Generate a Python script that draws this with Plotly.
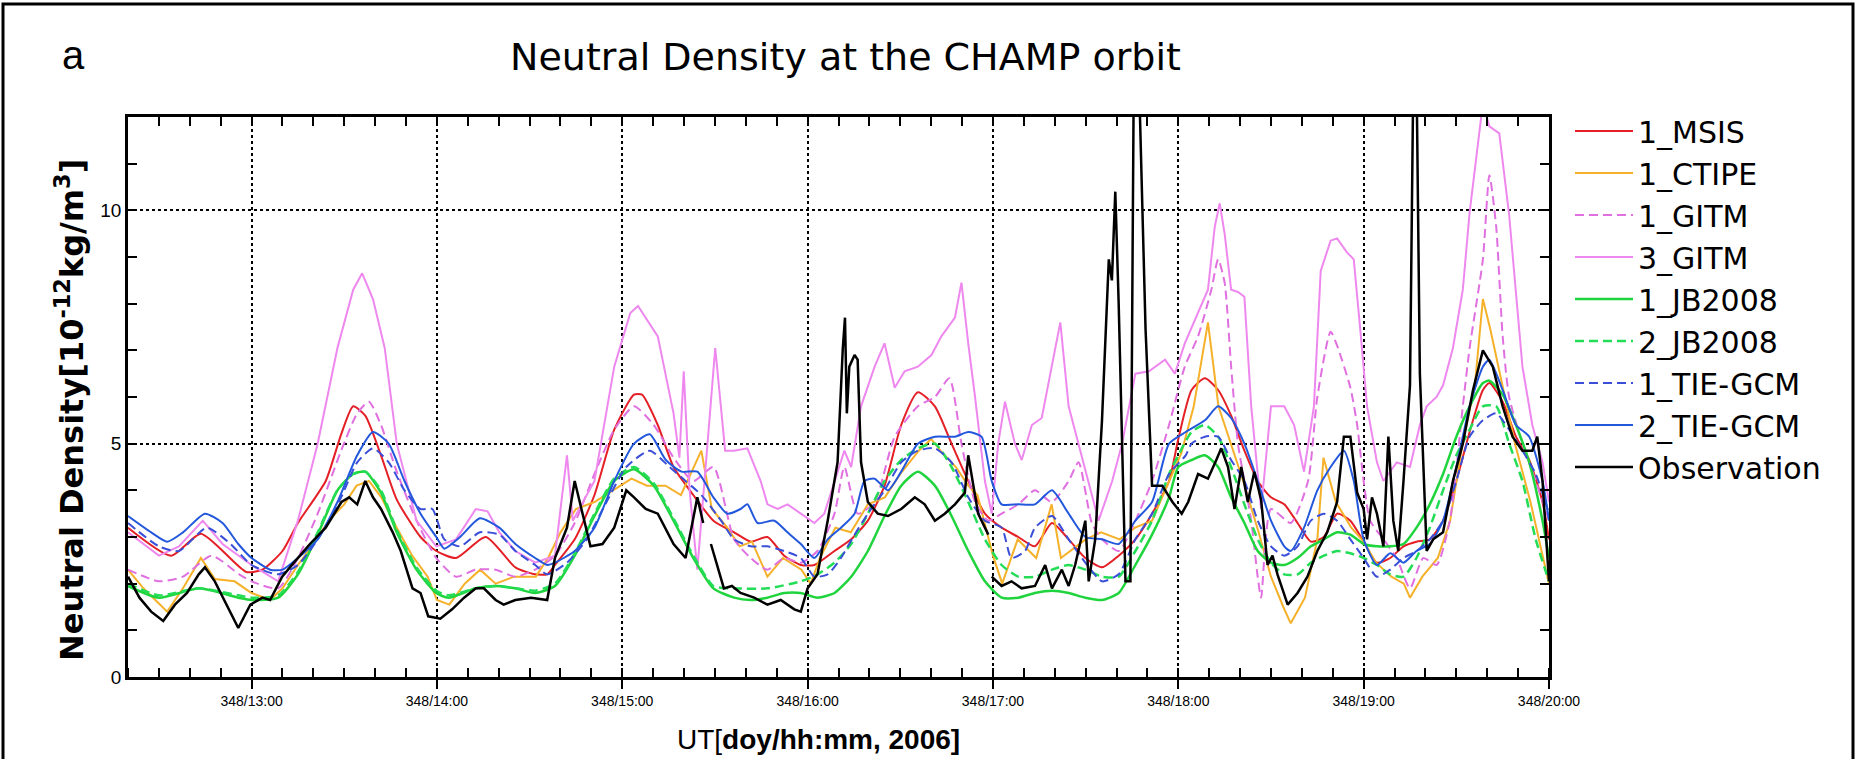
import plotly.graph_objects as go

# ---------------- data (time = minutes after 348/12:00 UT, density in 1e-12 kg/m^3) ----------------
MSIS_T = [20, 34, 43.6, 58.3, 63.5, 70, 75, 84, 89, 92.9,
          96.8, 101.9, 107, 114.7, 119.8, 126.2, 135.8, 145.4, 151.8, 155.7,
          158.2, 164.6, 171, 177.4, 183.8, 186.4, 191.5, 196.6, 203, 209.5,
          216.2, 221.6, 227, 232.4, 237.8, 242.2, 248.7, 254.1, 259.5, 264.9,
          270.3, 275.7, 281.2, 286.6, 292, 297.4, 302.8, 308.2, 313.6, 319.1,
          324.5, 329.9, 335.3, 340.7, 346.1, 351.5, 357, 360, 364.3, 368.6,
          372.9, 377.1, 381.4, 385.7, 390, 394.3, 398.6, 402.9, 407.1, 411.4,
          415.7, 420, 424.3, 428.6, 432.9, 437.1, 441.4, 445.7, 450, 454.3,
          458.6, 460.7, 465, 469.3, 473.6, 477.9, 480]
MSIS_V = [3.2, 2.6, 3.07, 2.25, 2.3, 2.7, 3.3, 4.2, 5.2, 5.8,
          5.6, 4.75, 3.8, 3.0, 2.7, 2.55, 3.0, 2.35, 2.2, 2.2,
          2.4, 2.95, 3.9, 5.3, 6.05, 6.05, 5.4, 4.5, 3.9, 3.35,
          3.1, 2.9, 3.0, 2.6, 2.4, 2.4, 2.7, 2.95, 3.35, 4.1,
          5.4, 6.1, 5.8, 5.0, 4.2, 3.5, 3.2, 3.0, 2.8, 3.3,
          2.95, 2.55, 2.35, 2.6, 2.95, 3.5, 4.2, 5.1, 6.15, 6.4,
          6.15, 5.6, 4.85, 4.2, 3.85, 3.7, 3.3, 2.9, 3.0, 3.5,
          3.35, 2.9, 2.45, 2.55, 2.8, 2.9, 2.95, 3.35, 4.2, 5.25,
          6.15, 6.3, 5.9, 5.15, 4.65, 3.75, 2.95]

CTIPE_T = [20, 25, 32.7, 37.8, 43.6, 48.1, 54.5, 60, 66, 70,
           75, 80, 85, 90, 94, 98, 102, 107, 112, 117,
           120, 124, 129, 134, 139, 145, 152, 156, 160, 165,
           171, 177, 183, 188, 194, 199, 205.6, 209, 214, 218,
           222, 227, 232, 238, 241, 244, 249, 254, 259.5, 265,
           270, 276, 280, 283, 288, 292, 295, 300, 303, 308,
           314, 319, 322, 330, 335, 341, 346, 351.5, 357, 361,
           365, 369.6, 373, 377, 381, 386, 390, 394, 396.4, 401,
           405, 407, 411, 416, 420, 424, 429, 433, 435, 439,
           444, 448, 452, 456, 458.6, 461, 465, 469, 474, 478,
           480]
CTIPE_V = [2.3, 1.9, 1.4, 1.9, 2.55, 2.1, 2.05, 1.8, 1.65, 1.9,
           2.4, 2.85, 3.35, 3.7, 4.1, 4.2, 3.85, 3.2, 2.6, 2.15,
           1.65, 1.55, 2.0, 2.3, 2.0, 2.15, 2.15, 2.55, 3.1, 3.6,
           3.75, 4.0, 4.25, 4.1, 4.1, 3.9, 4.85, 3.6, 3.2, 2.8,
           2.9, 2.15, 2.55, 2.3, 2.0, 2.55, 3.2, 3.1, 3.7, 3.85,
           4.35, 4.85, 5.1, 4.85, 4.5, 4.1, 3.9, 2.6, 2.0, 2.95,
           2.55, 3.7, 2.55, 2.95, 3.1, 2.95, 3.2, 3.35, 4.2, 4.8,
           5.8, 7.6, 5.8, 5.0, 4.2, 3.1, 2.15, 1.5, 1.15, 1.7,
           2.95, 4.7, 3.75, 3.2, 2.9, 2.45, 2.15, 2.0, 1.7, 2.15,
           2.55, 3.35, 5.0, 6.25, 8.1, 7.45, 6.25, 5.0, 3.75, 2.55,
           2.0]

GITM1_T = [20, 30, 37.8, 47, 56, 60, 68.6, 75, 81.4, 89,
           94.2, 98, 101.9, 107, 113.4, 119.8, 126.2, 132.6, 139, 145.4,
           151.8, 158.2, 164.6, 171, 177.4, 183.8, 190.2, 196.6, 203, 209.5,
           216.2, 221.6, 227, 232.4, 237.8, 243.2, 248.7, 251.9, 256.2, 261.7,
           268.2, 275.7, 281.2, 285.9, 289.8, 294.2, 298.5, 302.8, 308.2, 313.6,
           319.1, 324.5, 327.7, 332, 335.3, 340.7, 346.1, 351.5, 357, 362.1,
           366.4, 370.7, 372.9, 375, 377.1, 379.3, 381.4, 383.6, 385.7, 386.8,
           390, 396.4, 402, 405, 409.3, 411.4, 415.7, 417.9, 420, 422.1,
           426.4, 430.7, 435, 439.3, 443.6, 447.9, 452.1, 454.3, 458.6, 460.7,
           462.9, 465, 467.1, 471.4, 475.7, 480]
GITM1_V = [2.3, 2.05, 2.15, 2.6, 2.2, 2.05, 1.9, 2.55, 3.5, 4.85,
           5.65, 5.9, 5.4, 4.4, 3.35, 2.55, 2.15, 2.3, 2.3, 2.15,
           2.3, 2.6, 3.3, 4.35, 5.3, 5.8, 5.4, 4.7, 4.2, 4.5,
           2.95, 2.55, 2.3, 2.55, 2.45, 2.7, 3.5, 4.5, 3.5, 3.75,
           5.15, 5.8, 6.0, 6.4, 5.0, 3.75, 3.35, 3.5, 3.7, 4.0,
           3.75, 4.2, 4.6, 3.3, 2.95, 2.7, 3.35, 4.2, 5.4, 6.65,
           7.3, 8.3, 8.95, 8.45, 6.65, 5.0, 4.2, 3.35, 2.15, 1.7,
           3.6, 3.3, 4.2, 6.0, 7.4, 7.1, 6.2, 5.4, 4.2, 3.35,
           2.95, 2.55, 1.9, 2.55, 2.4, 3.35, 5.8, 7.05, 8.95, 10.75,
           9.65, 7.3, 6.0, 5.0, 4.2, 3.35]

GITM3_T = [20, 30, 36.5, 44.2, 50.6, 60, 68.6, 75, 81.4, 87.8,
           92.9, 95.8, 99.3, 103.1, 107, 113.4, 119.8, 126.2, 132.6, 136.4,
           140.2, 145.4, 151.8, 158.2, 162.1, 164, 171, 177.4, 182.6, 185.1,
           191.5, 196.6, 198.5, 199.9, 201.8, 204.3, 210.1, 213.3, 216.2, 220.5,
           224.8, 227, 230.3, 233.5, 237.8, 242.2, 245.4, 248.7, 251.9, 254.1,
           257.3, 261.7, 264.9, 268.2, 271.4, 275.7, 280.1, 283.3, 287.7, 289.8,
           292, 294.2, 297.4, 299.6, 301.7, 303.9, 307.1, 309.3, 312.6, 315.8,
           319.1, 321.8, 324.5, 327.7, 331, 334.2, 338.6, 341.8, 346.1, 350.5,
           355.7, 358.9, 362.1, 366.4, 369.6, 371.8, 373.4, 375, 377.1, 379.3,
           381.4, 383.6, 386.8, 390, 394.3, 397.5, 400.7, 403.9, 406.1, 409.3,
           411.4, 414.6, 416.8, 418.9, 421.1, 424.3, 426.4, 430.7, 435, 438.2,
           440.4, 443.6, 445.7, 448.9, 452.1, 454.3, 457.5, 458.6, 460.7, 463.9,
           467.1, 469.3, 471.4, 474.6, 477.9, 480]
GITM3_V = [3.1, 2.6, 2.8, 3.35, 2.85, 2.4, 2.05, 3.35, 5.0, 7.05,
           8.3, 8.65, 8.1, 7.05, 5.0, 3.35, 2.8, 2.95, 3.6, 3.55,
           3.1, 2.7, 2.45, 2.6, 4.75, 3.35, 4.2, 6.65, 7.8, 7.95,
           7.3, 5.65, 4.7, 6.55, 4.0, 2.3, 7.05, 4.85, 4.85, 4.9,
           4.2, 3.7, 3.6, 3.7, 3.5, 3.3, 3.5, 4.2, 4.85, 4.5,
           5.8, 6.65, 7.15, 6.2, 6.55, 6.65, 6.9, 7.3, 7.7, 8.45,
           7.15, 6.0, 4.2, 3.5, 5.0, 5.9, 5.0, 4.65, 5.4, 5.55,
           6.65, 7.6, 5.8, 5.0, 4.2, 3.35, 4.2, 5.0, 6.5, 6.55,
           6.8, 6.5, 7.15, 7.8, 8.3, 9.65, 10.15, 9.5, 8.3, 8.25,
           8.15, 5.8, 3.6, 5.8, 5.8, 5.4, 4.4, 5.8, 8.7, 9.35,
           9.4, 9.1, 8.95, 7.45, 5.8, 4.6, 4.2, 4.6, 4.5, 5.4,
           5.8, 6.0, 6.25, 7.05, 8.3, 9.95, 11.7, 12.3, 11.8, 11.65,
           9.9, 8.3, 6.65, 5.4, 4.6, 3.75]

JB1_T = [20, 30, 43, 55.7, 60, 68.6, 75, 81.4, 87.8, 92.9,
         96.8, 101.9, 107, 113.4, 119.8, 123.7, 132.6, 139, 145.4, 151.8,
         158.2, 164.6, 171, 177.4, 183.8, 190.2, 196.6, 203, 209.5, 216.2,
         221.6, 227, 232.4, 237.8, 243.2, 248.7, 254.1, 259.5, 264.9, 270.3,
         275.7, 281.2, 286.6, 292, 297.4, 302.8, 308.2, 313.6, 319.1, 324.5,
         329.9, 335.3, 340.7, 346.1, 351.5, 357, 360, 364.3, 368.6, 372.9,
         377.1, 381.4, 385.7, 390, 394.3, 398.6, 402.9, 407.1, 411.4, 415.7,
         420, 424.3, 428.6, 432.9, 437.1, 441.4, 445.7, 450, 454.3, 458.6,
         460.7, 465, 469.3, 473.6, 477.9, 480]
JB1_V = [1.95, 1.7, 1.9, 1.7, 1.65, 1.7, 2.2, 3.05, 4.0, 4.35,
         4.4, 3.95, 3.1, 2.3, 1.8, 1.7, 1.9, 1.95, 1.9, 1.8,
         1.95, 2.6, 3.45, 4.2, 4.45, 4.1, 3.35, 2.55, 1.9, 1.7,
         1.65, 1.7, 1.8, 1.8, 1.7, 1.8, 2.15, 2.7, 3.45, 4.1,
         4.4, 4.1, 3.45, 2.7, 2.05, 1.7, 1.7, 1.8, 1.85, 1.8,
         1.7, 1.65, 1.8, 2.4, 3.05, 3.85, 4.5, 4.65, 4.75, 4.5,
         3.85, 3.3, 2.7, 2.45, 2.4, 2.55, 2.8, 2.95, 3.1, 3.05,
         2.85, 2.8, 2.8, 2.85, 3.2, 3.7, 4.35, 5.15, 5.8, 6.3,
         6.35, 6.05, 5.4, 4.6, 3.35, 2.55]

JB2_T = [20, 30, 43, 55.7, 60, 68.6, 75, 81.4, 87.8, 92.9,
         96.8, 101.9, 107, 113.4, 119.8, 123.7, 132.6, 139, 145.4, 151.8,
         158.2, 164.6, 171, 177.4, 183.8, 190.2, 196.6, 203, 209.5, 216.2,
         227, 237.8, 243.2, 248.7, 254.1, 259.5, 264.9, 270.3, 275.7, 281.2,
         286.6, 292, 297.4, 302.8, 308.2, 313.6, 319.1, 324.5, 329.9, 335.3,
         340.7, 346.1, 351.5, 357, 360, 364.3, 368.6, 372.9, 377.1, 381.4,
         385.7, 390, 394.3, 398.6, 402.9, 407.1, 411.4, 415.7, 420, 424.3,
         428.6, 432.9, 437.1, 441.4, 445.7, 450, 454.3, 458.6, 462.9, 467.1,
         471.4, 475.7, 480]
JB2_V = [2.0, 1.75, 1.9, 1.75, 1.7, 1.75, 2.25, 3.1, 4.0, 4.35,
         4.4, 4.0, 3.15, 2.35, 1.85, 1.75, 1.9, 1.95, 1.9, 1.85,
         2.0, 2.65, 3.5, 4.25, 4.5, 4.15, 3.4, 2.6, 1.95, 1.9,
         1.9, 2.05, 2.2, 2.45, 2.85, 3.5, 4.2, 4.65, 4.9, 5.0,
         4.5, 3.75, 2.95, 2.4, 2.15, 2.15, 2.3, 2.4, 2.3, 2.15,
         2.15, 2.7, 3.35, 4.35, 4.75, 5.25, 5.4, 5.15, 4.5, 3.7,
         2.95, 2.45, 2.2, 2.2, 2.45, 2.6, 2.7, 2.65, 2.55, 2.4,
         2.2, 2.15, 2.55, 3.2, 4.0, 4.75, 5.3, 5.8, 5.8, 5.0,
         4.2, 2.95, 2.05]

TIE1_T = [20, 30, 36.5, 45.5, 53.2, 60, 68.6, 75, 81.4, 89,
          94.2, 99.3, 104.4, 109.5, 114.7, 118.5, 122.4, 127.5, 133.9, 140.2,
          145.4, 151.8, 155.7, 162.1, 168.5, 174.9, 181.3, 188.9, 195.3, 200.5,
          205.6, 212, 216.2, 221.6, 227, 232.4, 237.8, 242.2, 246.5, 250.8,
          255.2, 259.5, 264.9, 270.3, 275.7, 281.2, 286.6, 292, 297.4, 302.8,
          306, 310.4, 313.6, 319.1, 324.5, 329.9, 335.3, 340.7, 346.1, 351.5,
          357, 362.4, 364.3, 368.6, 372.9, 377.1, 381.4, 385.7, 390, 394.3,
          398.6, 402.9, 407.1, 411.4, 415.7, 420, 424.3, 428.6, 432.9, 437.1,
          441.4, 445.7, 450, 454.3, 458.6, 462.9, 467.1, 471.4, 475.7, 480]
TIE1_V = [3.3, 2.8, 2.7, 3.2, 2.85, 2.4, 2.2, 2.4, 2.95, 3.85,
          4.6, 4.9, 4.6, 4.0, 3.6, 3.6, 2.95, 2.8, 3.1, 3.05,
          2.7, 2.4, 2.2, 2.45, 2.95, 3.75, 4.5, 4.85, 4.5, 4.2,
          3.9, 3.35, 2.95, 2.8, 2.8, 2.7, 2.55, 2.15, 2.2, 2.55,
          3.05, 3.5, 4.0, 4.6, 4.85, 4.9, 4.6, 3.85, 3.35, 3.2,
          2.55, 2.7, 3.2, 3.45, 2.95, 2.45, 2.05, 2.2, 2.95, 3.5,
          4.35, 4.75, 5.0, 5.15, 5.15, 4.65, 4.2, 3.35, 2.8, 2.6,
          2.8, 3.35, 3.5, 3.35, 2.95, 2.55, 2.15, 2.3, 2.55, 2.7,
          2.95, 3.35, 4.2, 5.15, 5.5, 5.65, 5.3, 4.85, 4.35, 3.5]

TIE2_T = [20, 27.5, 32.7, 37.8, 44.9, 50.6, 55.7, 60, 66, 70,
          75, 81.4, 87.8, 94.2, 99.3, 104.4, 109.5, 114.7, 119.8, 122.4,
          127.5, 133.9, 140.2, 145.4, 151.8, 155.7, 158.2, 164.6, 171, 177.4,
          183.8, 188.9, 194.1, 199.2, 204.3, 209.5, 214, 218.3, 220.5, 223.8,
          229.2, 233.5, 237.8, 242.2, 246.5, 250.8, 255.2, 258.4, 261.7, 266,
          270.3, 275.7, 281.2, 287.7, 292, 296.3, 299.6, 302.8, 308.2, 313.6,
          319.1, 324.5, 329.9, 335.3, 340.7, 346.1, 351.5, 357, 362.4, 368.6,
          372.9, 377.1, 381.4, 385.7, 390, 394.3, 396.4, 400.7, 405, 409.3,
          413.6, 416.8, 420, 424.3, 428.6, 432.9, 437.1, 441.4, 445.7, 450,
          454.3, 458.6, 460.7, 465, 469.3, 473.6, 477.9, 480]
TIE2_V = [3.45, 3.1, 2.9, 3.1, 3.5, 3.3, 2.85, 2.55, 2.3, 2.3,
          2.55, 2.95, 3.75, 4.75, 5.25, 5.0, 4.2, 3.5, 3.0, 2.75,
          3.0, 3.4, 3.2, 2.85, 2.55, 2.4, 2.45, 2.7, 3.2, 4.2,
          5.0, 5.2, 4.65, 4.4, 4.4, 3.85, 3.5, 3.6, 3.7, 3.3,
          3.35, 3.1, 2.85, 2.55, 2.95, 3.2, 3.5, 4.2, 4.25, 4.0,
          4.4, 5.0, 5.15, 5.15, 5.25, 5.15, 4.2, 3.7, 3.7, 3.7,
          4.0, 3.5, 3.0, 2.95, 2.85, 3.35, 3.75, 5.0, 5.25, 5.5,
          5.8, 5.55, 5.0, 4.2, 3.35, 2.8, 2.7, 3.2, 4.0, 4.5,
          4.85, 4.2, 2.95, 2.4, 2.65, 2.45, 2.7, 2.85, 3.35, 4.5,
          5.8, 6.65, 6.8, 6.15, 5.4, 5.15, 4.2, 3.35]

# None marks the data gaps of the CHAMP record
OBS_T = [20, 23.7, 27.5, 31.4, 35.2, 39.1, 42.9, 44.9, 48.1, 51.9,
         55.7, 59.6, 63.5, 66, 69.9, 73.7, 78.9, 84, 89.1, 91.6,
         94.2, 96.8, 99.3, 101.9, 105.7, 108.3, 112.1, 114.7, 117.2, 121.1,
         124.9, 128.8, 132.6, 135.2, 139, 141.6, 145.4, 150.5, 155.7, 158.2,
         162.1, 164.6, 167.2, 169.7, 173.6, 177.4, 181.3, 183.8, 187.6, 191.5,
         196.6, 200.5, 204.3, 206.2, None, 208.7, 212.9, 215.5, 218.3, 222.7,
         227, 231.3, 235.7, 237.8, 240, 243.2, 246.5, 249.7, 251.4, 252.1,
         252.7, 253.5, 255.2, 256.2, 257.3, 259.5, 262.7, 266, 270.3, 274.7,
         277.9, 281.2, 284.4, 287.7, 290.9, 292, 293.6, 295.2, 297.4, 298.5,
         None, 299.6, 302.8, 306, 309.3, 313.6, 316.9, 319.1, 322.3, 324.5,
         326.6, 329.9, 331, 333.1, 335.3, 337.5, 338.5, 339.6, 340.7, 342.9,
         344.5, 345.6, 347.2, 349.4, 351.5, 354.8, 358.1, 361.1, 363.2, 366.4,
         369.6, 372.3, 373.9, 376.1, 378.2, 380.4, 382.5, 384.6, 386.8, 388.9,
         390.5, 392.1, 395.4, 398.6, 401.8, 405, 408.2, 411.4, 413.6, 415.7,
         417.9, 420, 421.1, 422.7, 424.3, 426.4, 428, 429.6, 431.2, 432.9,
         435, 436.1, 437.1, 438.2, 440.4, 442.5, 445.7, 448.9, 452.1, 455.4,
         458.6, 461.8, 465, 468.2, 471.4, 474.6, 476.2, 477.9, 480]
OBS_V = [2.15, 1.7, 1.4, 1.2, 1.55, 1.8, 2.2, 2.35, 2.05, 1.55,
         1.05, 1.55, 1.7, 1.65, 2.15, 2.45, 2.85, 3.2, 3.75, 3.85,
         3.7, 4.2, 3.85, 3.6, 3.1, 2.7, 1.9, 1.8, 1.3, 1.25,
         1.45, 1.7, 1.9, 1.9, 1.65, 1.55, 1.65, 1.7, 1.65, 2.55,
         3.2, 4.2, 3.5, 2.8, 2.85, 3.2, 4.0, 3.85, 3.6, 3.5,
         2.85, 2.55, 3.85, 3.3, None, 2.85, 1.9, 1.95, 1.8, 1.7,
         1.55, 1.65, 1.45, 1.4, 1.9, 2.2, 3.35, 4.6, 7.05, 7.7,
         5.65, 6.65, 6.9, 6.8, 4.6, 3.75, 3.5, 3.45, 3.6, 3.85,
         3.7, 3.35, 3.5, 3.7, 3.95, 4.75, 4.1, 3.5, 3.2, 3.05,
         None, 2.15, 1.95, 2.05, 1.9, 1.95, 2.4, 1.9, 2.3, 1.95,
         2.4, 3.35, 2.05, 2.95, 5.5, 8.95, 8.5, 10.4, 8.0, 2.05,
         2.05, 13.0, 13.0, 7.45, 4.1, 4.1, 3.75, 3.5, 3.75, 4.35,
         4.25, 4.65, 4.9, 4.5, 3.6, 4.5, 3.75, 4.4, 3.8, 2.4,
         2.6, 2.2, 1.55, 1.8, 2.15, 2.7, 3.1, 3.75, 5.15, 5.15,
         3.95, 3.6, 2.95, 3.85, 3.5, 2.8, 5.15, 3.35, 2.7, 4.2,
         6.25, 13.0, 13.0, 6.5, 2.7, 2.95, 3.1, 4.2, 5.0, 6.15,
         7.0, 6.65, 5.8, 5.15, 4.85, 4.85, 5.15, 4.2, 2.05]

HOUR_TICKS = [60, 120, 180, 240, 300, 360, 420, 480]
HOUR_LABELS = ["348/13:00", "348/14:00", "348/15:00", "348/16:00",
               "348/17:00", "348/18:00", "348/19:00", "348/20:00"]
X_RANGE = [20, 480]
Y_RANGE = [0, 12]

# name, times, values, colour, dashed?, width, smooth?
SERIES = [
    ("1_MSIS", MSIS_T, MSIS_V, "#e41f26", False, 2, True),
    ("1_CTIPE", CTIPE_T, CTIPE_V, "#f6b12a", False, 2, False),
    ("1_GITM", GITM1_T, GITM1_V, "#e070e0", True, 2, True),
    ("3_GITM", GITM3_T, GITM3_V, "#ee88ee", False, 2, False),
    ("1_JB2008", JB1_T, JB1_V, "#1fd43c", False, 2.5, True),
    ("2_JB2008", JB2_T, JB2_V, "#22dd55", True, 2.5, True),
    ("1_TIE-GCM", TIE1_T, TIE1_V, "#3a4ed8", True, 2, True),
    ("2_TIE-GCM", TIE2_T, TIE2_V, "#2458dc", False, 2, True),
    ("Observation", OBS_T, OBS_V, "#000000", False, 2.5, False),
]

for name, t, v, *_ in SERIES:
    assert len(t) == len(v), (name, len(t), len(v))

# ---------------- layout geometry (pixels) ----------------
W, H = 1858, 759
L, R, T, B = 128, 1549, 117, 677


def px(xp):
    return (xp - L) / (R - L)


def py(yp):
    return (B - yp) / (B - T)


FONT = "Liberation Sans, Arial, Helvetica, sans-serif"
WIDE = "DejaVu Sans, Liberation Sans, Arial, sans-serif"

fig = go.Figure()
for name, t, v, color, dashed, width, smooth in SERIES:
    fig.add_trace(go.Scatter(
        x=t, y=v, mode="lines", name=name,
        line=dict(color=color, width=width, dash=("9px,5px" if dashed else "solid"),
                  shape=("spline" if smooth else "linear"), smoothing=0.6),
        connectgaps=False,
    ))

# empty traces so that the mirrored top / right frame axes are drawn
fig.add_trace(go.Scatter(x=[], y=[], xaxis="x2", yaxis="y", showlegend=False, hoverinfo="skip"))
fig.add_trace(go.Scatter(x=[], y=[], xaxis="x", yaxis="y2", showlegend=False, hoverinfo="skip"))

axis_line = dict(showline=True, linecolor="black", linewidth=2.5, zeroline=False)

fig.update_layout(
    width=W, height=H,
    margin=dict(l=L, r=W - R, t=T, b=H - B, pad=0),
    paper_bgcolor="white", plot_bgcolor="white",
    font=dict(family=FONT, color="black"),
    showlegend=True,
    legend=dict(
        x=px(1570), y=py(105), xanchor="left", yanchor="top",
        font=dict(family=WIDE, size=30, color="black"),
        bgcolor="rgba(0,0,0,0)", borderwidth=0, tracegroupgap=0,
        itemwidth=58, maxheight=640,
    ),
    xaxis=dict(
        range=X_RANGE, tickmode="array", tickvals=HOUR_TICKS, ticktext=HOUR_LABELS,
        ticks="outside", ticklen=9, tickwidth=2, tickcolor="black",
        tickfont=dict(family=FONT, size=14, color="black"),
        showgrid=True, gridcolor="black", griddash="dot", gridwidth=1.5,
        minor=dict(dtick=10, tick0=0, ticks="inside", ticklen=9, tickwidth=1.5,
                   tickcolor="black", showgrid=False),
        mirror=False, **axis_line,
    ),
    xaxis2=dict(
        range=X_RANGE, overlaying="x", side="top", anchor="y",
        tickmode="linear", tick0=0, dtick=10, ticks="inside", ticklen=9, tickwidth=1.5,
        tickcolor="black", showticklabels=False, showgrid=False, **axis_line,
    ),
    yaxis=dict(
        range=Y_RANGE, tickmode="array", tickvals=[0, 5, 10], ticktext=["0", "5", "10"],
        ticks="inside", ticklen=9, tickwidth=1.5, tickcolor="black",
        tickfont=dict(family=FONT, size=19, color="black"),
        showgrid=True, gridcolor="black", griddash="dot", gridwidth=1.5,
        minor=dict(dtick=1, tick0=0, ticks="inside", ticklen=9, tickwidth=1.5,
                   tickcolor="black", showgrid=False),
        **axis_line,
    ),
    yaxis2=dict(
        range=Y_RANGE, overlaying="y", side="right", anchor="x",
        tickmode="linear", tick0=0, dtick=1, ticks="inside", ticklen=9, tickwidth=1.5,
        tickcolor="black", showticklabels=False, showgrid=False, **axis_line,
    ),
    annotations=[
        dict(text="Neutral Density at the CHAMP orbit", x=px(845), y=py(57),
             xref="paper", yref="paper", showarrow=False, xanchor="center", yanchor="middle",
             font=dict(family=WIDE, size=38, color="black")),
        dict(text="a", x=px(73), y=py(55), xref="paper", yref="paper", showarrow=False,
             xanchor="center", yanchor="middle", font=dict(family=FONT, size=40, color="black")),
        dict(text="<b>Neutral Density[10<sup>-12</sup>kg/m<sup>3</sup>]</b>", x=px(70), y=py(410),
             xref="paper", yref="paper", showarrow=False, textangle=-90,
             xanchor="center", yanchor="middle", font=dict(family=WIDE, size=32, color="black")),
        dict(text="UT[<b>doy/hh:mm, 2006]</b>", x=px(818), y=py(739),
             xref="paper", yref="paper", showarrow=False, xanchor="center", yanchor="middle",
             font=dict(family=FONT, size=28, color="black")),
    ],
    shapes=[
        dict(type="rect", xref="paper", yref="paper",
             x0=px(3), x1=px(1853), y0=py(790), y1=py(4),
             line=dict(color="black", width=3), fillcolor="rgba(0,0,0,0)", layer="above"),
    ],
)

fig.write_html("out.html")
